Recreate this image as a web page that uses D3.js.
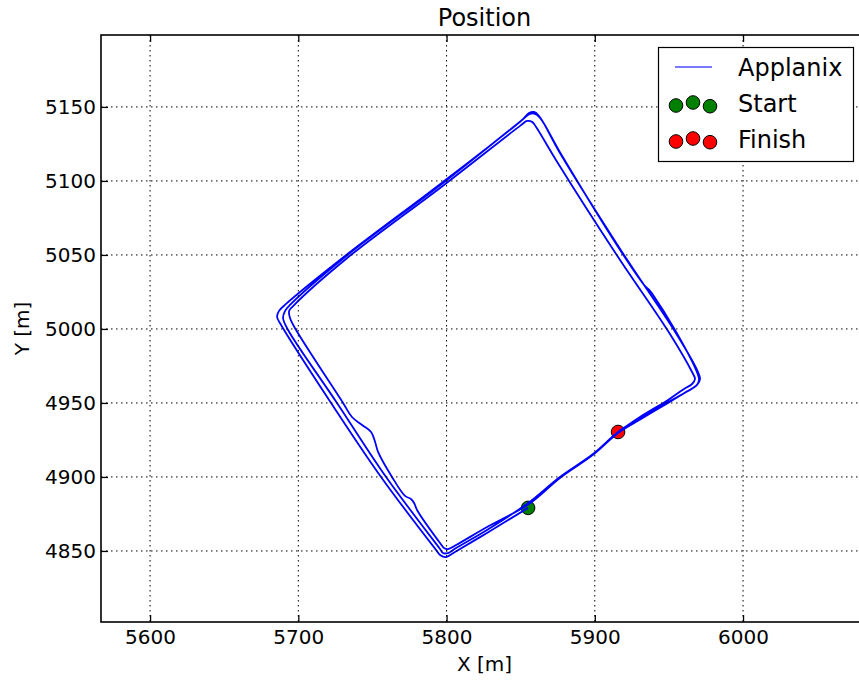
<!DOCTYPE html>
<html>
<head>
<meta charset="utf-8">
<script src="https://cdn.jsdelivr.net/npm/d3@7"></script>
<style>
body { margin: 0; background: #fff; }
text { font-family: "DejaVu Sans", sans-serif; fill: #000; }
</style>
</head>
<body>
<div id="chart"></div>
<script>
// axis settings
var xTicks = [5600, 5700, 5800, 5900, 6000];
var yTicks = [4850, 4900, 4950, 5000, 5050, 5100, 5150];
var xDomain = [5566.9, 6084.3];
var yDomain = [4802.0, 5198.6];

// Applanix track, one array per lap (x, y in metres)
var lap1 = [
  [5855.0, 4879.1], [5827.3, 4862.2], [5805.7, 4849.3], [5799.7, 4845.9],
  [5795.6, 4847.3], [5792.9, 4850.7], [5755.8, 4900.0], [5722.1, 4950.0],
  [5688.4, 5002.7], [5685.7, 5008.1], [5687.0, 5012.2], [5691.7, 5016.9],
  [5731.5, 5049.3], [5797.6, 5099.3], [5850.9, 5141.2], [5855.6, 5145.9],
  [5859.0, 5146.6], [5862.4, 5143.9], [5876.5, 5118.9], [5918.4, 5052.0],
  [5953.4, 4999.3], [5969.0, 4972.3], [5971.0, 4966.2], [5969.0, 4962.2],
  [5962.9, 4958.1], [5950.7, 4951.3], [5930.5, 4939.9], [5915.7, 4930.4],
  [5898.8, 4915.5], [5876.5, 4900.0], [5855.0, 4882.4]
];
var lap2 = [
  [5827.3, 4864.2], [5806.4, 4852.0], [5801.0, 4848.6], [5797.6, 4848.6],
  [5795.6, 4851.3], [5759.2, 4900.0], [5726.1, 4950.0], [5693.1, 4999.3],
  [5689.7, 5007.4], [5691.1, 5012.2], [5694.4, 5016.2], [5731.5, 5048.6],
  [5797.6, 5098.6], [5850.2, 5140.5], [5856.3, 5145.3], [5859.7, 5145.3],
  [5863.1, 5142.6], [5877.2, 5118.2], [5918.4, 5051.3], [5934.2, 5028.6],
  [5936.6, 5026.6], [5939.0, 5023.4], [5954.1, 4999.3], [5968.3, 4972.3],
  [5970.3, 4965.5], [5968.3, 4961.5], [5961.5, 4957.4], [5949.4, 4950.0],
  [5931.2, 4939.2], [5915.7, 4929.7], [5898.8, 4914.9], [5876.5, 4899.3],
  [5855.6, 4881.7]
];
var lap3 = [
  [5827.3, 4866.2], [5806.4, 4854.0], [5801.0, 4851.3], [5798.3, 4852.0],
  [5795.6, 4855.4], [5780.1, 4877.7], [5778.1, 4882.4], [5776.0, 4885.1],
  [5772.0, 4887.2], [5763.2, 4900.0], [5753.8, 4916.9], [5751.8, 4923.6],
  [5749.1, 4930.4], [5743.0, 4935.1], [5736.2, 4940.5], [5730.2, 4950.0],
  [5698.5, 4999.3], [5694.4, 5007.4], [5693.8, 5012.2], [5696.5, 5015.5],
  [5732.2, 5047.3], [5798.3, 5097.3], [5849.6, 5137.2], [5854.3, 5140.5],
  [5857.7, 5139.9], [5860.4, 5136.5], [5873.8, 5114.2], [5915.7, 5048.6],
  [5950.7, 4996.6], [5965.6, 4970.9], [5967.6, 4966.2], [5965.6, 4962.8],
  [5960.2, 4959.5], [5949.4, 4952.0], [5930.5, 4940.5], [5915.7, 4930.4]
];
var startPoint = [5855.0, 4879.1];
var finishPoint = [5915.7, 4930.4];
var legendLabels = ["Applanix", "Start", "Finish"];

var width = 859, height = 682;
var margin = { top: 35, right: -9, bottom: 60, left: 101 };

var svg = d3.select("#chart").append("svg")
  .attr("width", width)
  .attr("height", height);

var x = d3.scaleLinear().domain(xDomain).range([margin.left, width - margin.right]);
var y = d3.scaleLinear().domain(yDomain).range([height - margin.bottom, margin.top]);

var plot = svg.append("g");

// scatter markers sit under the track line
plot.append("circle")
  .attr("cx", x(startPoint[0])).attr("cy", y(startPoint[1])).attr("r", 6.8)
  .attr("fill", "#008000").attr("stroke", "#000").attr("stroke-width", 1);
plot.append("circle")
  .attr("cx", x(finishPoint[0])).attr("cy", y(finishPoint[1])).attr("r", 6.8)
  .attr("fill", "#ff0000").attr("stroke", "#000").attr("stroke-width", 1);

var track = lap1.concat(lap2, lap3);
var line = d3.line()
  .x(function(d) { return x(d[0]); })
  .y(function(d) { return y(d[1]); })
  .curve(d3.curveCatmullRom.alpha(0.5));

plot.append("path")
  .datum(track)
  .attr("d", line)
  .attr("fill", "none")
  .attr("stroke", "#0000ff")
  .attr("stroke-width", 1.8)
  .attr("stroke-linejoin", "round");

// dotted grid (drawn above the data, classic style)
var grid = svg.append("g")
  .attr("stroke", "#000")
  .attr("stroke-width", 1)
  .attr("stroke-dasharray", "1.5,3.5");
grid.selectAll(".gx").data(xTicks).enter().append("line")
  .attr("x1", function(d) { return x(d); }).attr("x2", function(d) { return x(d); })
  .attr("y1", y.range()[1]).attr("y2", y.range()[0]);
grid.selectAll(".gy").data(yTicks).enter().append("line")
  .attr("y1", function(d) { return y(d); }).attr("y2", function(d) { return y(d); })
  .attr("x1", x.range()[0]).attr("x2", x.range()[1]);

// axes with inward ticks
function styleAxis(g) {
  g.select(".domain").remove();
  g.selectAll(".tick line").attr("stroke", "#000").attr("stroke-width", 1.3);
  g.selectAll(".tick text").attr("font-size", 20).attr("font-family", "DejaVu Sans");
}
svg.append("g")
  .attr("transform", "translate(0," + y.range()[0] + ")")
  .call(d3.axisBottom(x).tickValues(xTicks).tickSize(-7).tickPadding(8).tickFormat(d3.format("d")))
  .call(styleAxis);
svg.append("g")
  .attr("transform", "translate(0," + y.range()[1] + ")")
  .call(d3.axisTop(x).tickValues(xTicks).tickSize(-7).tickFormat(""))
  .call(styleAxis);
svg.append("g")
  .attr("transform", "translate(" + x.range()[0] + ",0)")
  .call(d3.axisLeft(y).tickValues(yTicks).tickSize(-7).tickPadding(5).tickFormat(d3.format("d")))
  .call(styleAxis);
svg.append("g")
  .attr("transform", "translate(" + x.range()[1] + ",0)")
  .call(d3.axisRight(y).tickValues(yTicks).tickSize(-7).tickFormat(""))
  .call(styleAxis);

svg.append("rect")
  .attr("x", x.range()[0]).attr("y", y.range()[1])
  .attr("width", x.range()[1] - x.range()[0])
  .attr("height", y.range()[0] - y.range()[1])
  .attr("fill", "none").attr("stroke", "#000").attr("stroke-width", 1.6);

// titles
var midX = (x.range()[0] + x.range()[1]) / 2;
svg.append("text").attr("x", midX).attr("y", 26)
  .attr("text-anchor", "middle").attr("font-size", 24).text("Position");
svg.append("text").attr("x", midX).attr("y", 671)
  .attr("text-anchor", "middle").attr("font-size", 20).text("X [m]");
svg.append("text")
  .attr("transform", "translate(29," + ((y.range()[0] + y.range()[1]) / 2) + ") rotate(-90)")
  .attr("text-anchor", "middle").attr("font-size", 20).text("Y [m]");

// legend
var lx = 658, ly = 47, rowGap = 36;
var legend = svg.append("g").attr("transform", "translate(" + lx + "," + ly + ")");
legend.append("rect")
  .attr("x", 0.5).attr("y", 0.5).attr("width", 195).attr("height", 114)
  .attr("fill", "#fff").attr("stroke", "#000").attr("stroke-width", 1.2);
legend.append("line")
  .attr("x1", 17).attr("x2", 54).attr("y1", 20).attr("y2", 20)
  .attr("stroke", "#0000ff").attr("stroke-width", 1.6).attr("stroke-opacity", 0.7);
var markerX = [18, 35, 52];
var markerDy = [2.5, -0.5, 3.2];
[["#008000", 1], ["#ff0000", 2]].forEach(function(m) {
  legend.selectAll(".m" + m[1]).data(markerX).enter().append("circle")
    .attr("cx", function(d) { return d; })
    .attr("cy", function(d, i) { return 20 + m[1] * rowGap + markerDy[i]; })
    .attr("r", 6.8)
    .attr("fill", m[0]).attr("stroke", "#000").attr("stroke-width", 1);
});
legend.selectAll(".lt").data(legendLabels).enter().append("text")
  .attr("x", 80)
  .attr("y", function(d, i) { return 28.6 + i * rowGap; })
  .attr("font-size", 24)
  .text(function(d) { return d; });
</script>
</body>
</html>
